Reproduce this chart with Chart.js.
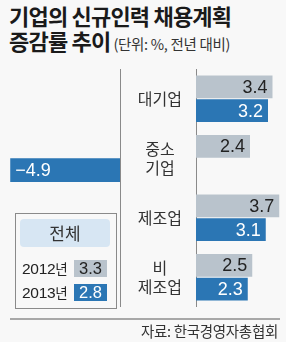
<!DOCTYPE html>
<html>
<head>
<meta charset="utf-8">
<title>기업의 신규인력 채용계획 증감률 추이</title>
<script src="https://cdn.jsdelivr.net/npm/chart.js"></script>
<style>
  body { margin: 0; width: 286px; height: 342px; background: #f8f8f8; position: relative; overflow: hidden;
         font-family: 'Noto Sans CJK KR', sans-serif; color: #222; }
  .title { position: absolute; left: 9px; top: 3px; font-weight: bold; font-size: 22px; line-height: 25px;
           letter-spacing: -0.8px; color: #1a1a1a; white-space: nowrap; }
  .title small { font-weight: normal; font-size: 14.5px; letter-spacing: -0.3px; color: #333; margin-left: 3px; }
  #left { position: absolute; left: 0; top: 69px; width: 121px; height: 238px; }
  #right { position: absolute; left: 120px; top: 69px; width: 166px; height: 238px; }
  .legend { position: absolute; left: 15px; top: 213px; width: 100px; height: 94px; border: 1px solid #8a8a8a; }
  .legend .head { position: absolute; left: 4px; top: 5px; width: 90px; height: 28px; border-radius: 4px;
                  background: #d7e6f3; text-align: center; line-height: 28px; font-size: 17px; color: #333; }
  .legend .row { position: absolute; left: 6px; height: 17px; width: 92px; }
  .legend .yr { position: absolute; left: 0; top: -1px; font-family: 'Liberation Sans Narrow', 'Liberation Sans', sans-serif;
                font-size: 15.5px; line-height: 18px; color: #222; letter-spacing: -0.3px; }
  .legend .yr span { font-family: 'Noto Sans CJK KR', sans-serif; font-size: 13.5px; }
  .legend .val { position: absolute; left: 52px; top: 0; width: 33px; height: 17px; text-align: center; line-height: 17px;
                 font-family: 'Liberation Sans Narrow', 'Liberation Sans', sans-serif; font-size: 16.5px; }
  .rule { position: absolute; left: 10px; top: 318px; width: 270px; height: 2px; background: #a8a8a8; }
  .source { position: absolute; right: 8px; top: 321px; font-size: 14.5px; letter-spacing: -0.3px; color: #333; line-height: 20px; }
</style>
</head>
<body>
  <div class="title">기업의 신규인력 채용계획<br>증감률 추이<small>(단위: %, 전년 대비)</small></div>
  <canvas id="left" width="121" height="238"></canvas>
  <canvas id="right" width="166" height="238"></canvas>
  <div class="legend" id="legend"><div class="head">전체</div></div>
  <div class="rule"></div>
  <div class="source">자료: 한국경영자총협회</div>

<script>
  // categories and values
  const categories = ['대기업', ['중소', '기업'], '제조업', ['비', '제조업']];
  const years = ['2012', '2013'];
  const values2012 = [3.4, 2.4, 3.7, 2.5];
  const values2013 = [3.2, -4.9, 3.1, 2.3];
  const totals = [3.3, 2.8]; // 전체 (2012, 2013)

  const colors = ['#b9c3cc', '#2b76b4'];
  const textColors = ['#222', '#fff'];

  // totals box (HTML, from the arrays)
  const legend = document.getElementById('legend');
  years.forEach((y, i) => {
    const row = document.createElement('div');
    row.className = 'row';
    row.style.top = (46 + i * 24) + 'px';
    row.innerHTML = '<div class="yr">' + y + '<span>년</span></div>' +
      '<div class="val" style="background:' + colors[i] + ';color:' + textColors[i] + '">' + totals[i].toFixed(1) + '</div>';
    legend.appendChild(row);
  });

  // value labels drawn at the bar ends
  const valueLabels = {
    id: 'valueLabels',
    afterDatasetsDraw(chart, args, opts) {
      const ctx = chart.ctx;
      ctx.save();
      ctx.textBaseline = 'middle';
      chart.data.datasets.forEach((ds, i) => {
        chart.getDatasetMeta(i).data.forEach((bar, j) => {
          const v = ds.data[j];
          if (v == null) return;
          if (opts.negative !== (v < 0)) return;
          ctx.fillStyle = textColors[i];
          ctx.font = '18px "Liberation Sans Narrow", "Liberation Sans", sans-serif';
          if (v < 0) {
            ctx.textAlign = 'left';
            ctx.fillText('\u2212' + Math.abs(v).toFixed(1), bar.x + 5, bar.y + 1);
          } else {
            ctx.textAlign = 'right';
            ctx.fillText(v.toFixed(1), bar.x - 5, bar.y + 1);
          }
        });
      });
      ctx.restore();
    }
  };

  function makeData(thick) {
    return {
      labels: categories,
      datasets: [values2012, values2013].map((d, i) => ({
        label: years[i] + '년',
        data: d,
        backgroundColor: colors[i],
        borderWidth: 0,
        categoryPercentage: 0.8,
        barPercentage: thick ? 1 : 0.96
      }))
    };
  }

  // left panel: negative side
  new Chart(document.getElementById('left'), {
    type: 'bar',
    data: makeData(true),
    options: {
      indexAxis: 'y',
      responsive: false,
      animation: false,
      events: [],
      layout: { padding: { left: 8, right: 1, top: 0, bottom: 0 } },
      plugins: { legend: { display: false }, tooltip: { enabled: false }, valueLabels: { negative: true } },
      scales: {
        x: { display: false, min: -5, max: 0 },
        y: {
          position: 'right',
          ticks: { display: false },
          grid: { display: false, drawTicks: false },
          border: { display: true, color: '#8a8a8a', width: 1 },
          afterFit(scale) { scale.width = 0; scale.paddingTop = 0; scale.paddingBottom = 0; }
        }
      }
    },
    plugins: [valueLabels]
  });

  // right panel: positive side with the category labels
  new Chart(document.getElementById('right'), {
    type: 'bar',
    data: makeData(false),
    options: {
      indexAxis: 'y',
      responsive: false,
      animation: false,
      events: [],
      layout: { padding: 0 },
      plugins: { legend: { display: false }, tooltip: { enabled: false }, valueLabels: { negative: false } },
      scales: {
        x: { display: false, min: 0, max: 4 },
        y: {
          position: 'left',
          ticks: {
            autoSkip: false,
            crossAlign: 'center',
            padding: 14,
            color: '#333',
            font: { family: "'Noto Sans CJK KR', sans-serif", size: 16, lineHeight: 1.2 }
          },
          grid: { display: false, drawTicks: false },
          border: { display: true, color: '#8a8a8a', width: 1 },
          // keep the full height for the bars (no label overhang padding)
          afterFit(scale) { scale.width = 76; scale.paddingTop = 0; scale.paddingBottom = 0; }
        }
      }
    },
    plugins: [valueLabels]
  });
</script>
</body>
</html>
